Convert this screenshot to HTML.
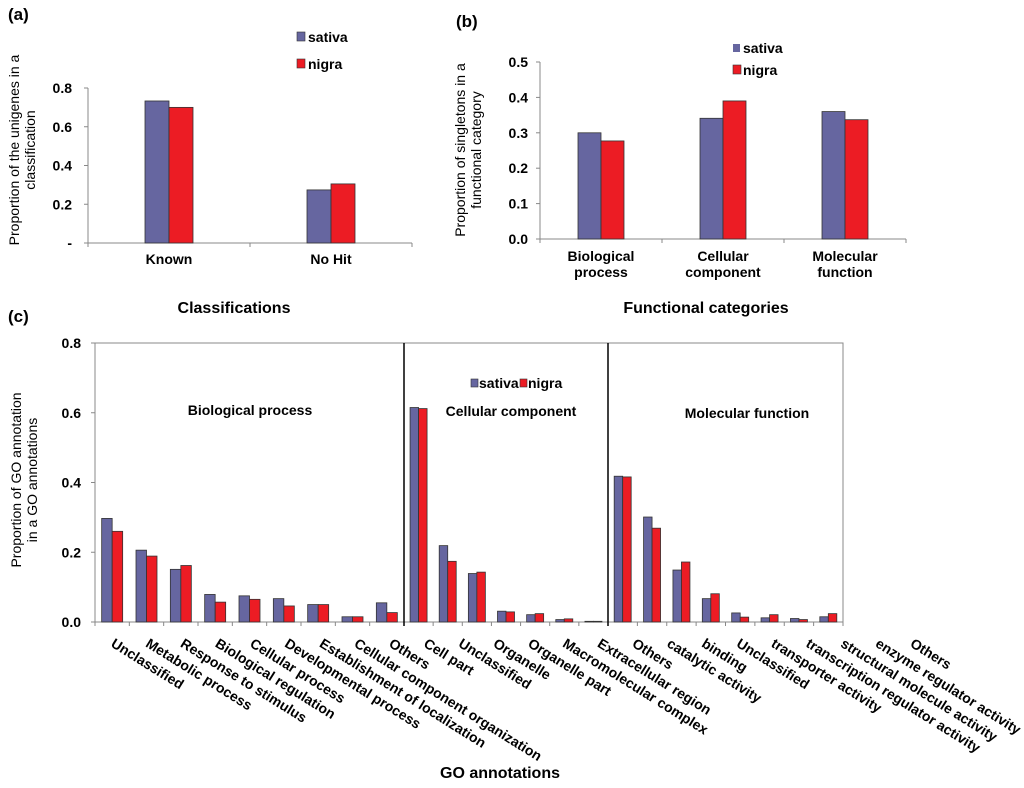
<!DOCTYPE html>
<html><head><meta charset="utf-8"><style>
html,body{margin:0;padding:0;background:#fff;}
svg{display:block;font-family:"Liberation Sans",Arial,sans-serif;font-weight:bold;}
</style></head><body>
<svg id="fig" width="1024" height="788" viewBox="0 0 1024 788">
<g id="pa"></g>
<g id="pb"></g>
<g id="pc"></g>
</svg>
<script>
// Panel (a)
const aCats = ["Known","No Hit"];
const aSativa = [0.733, 0.274];
const aNigra = [0.70, 0.305];
const aTicks = [0, 0.2, 0.4, 0.6, 0.8];
const aTickLabels = ["-", "0.2", "0.4", "0.6", "0.8"];
// Panel (b)
const bCats = [["Biological","process"],["Cellular","component"],["Molecular","function"]];
const bSativa = [0.30, 0.341, 0.36];
const bNigra = [0.277, 0.39, 0.337];
const bTicks = [0, 0.1, 0.2, 0.3, 0.4, 0.5];
const bTickLabels = ["0.0","0.1","0.2","0.3","0.4","0.5"];
// Panel (c)
const cBP = ["Unclassified","Metabolic process","Response to stimulus","Biological regulation","Cellular process","Developmental process","Establishment of localization","Cellular component organization","Others"];
const cBPSativa = [0.297,0.206,0.151,0.079,0.075,0.067,0.05,0.015,0.055];
const cBPNigra = [0.26,0.189,0.162,0.057,0.065,0.046,0.05,0.015,0.027];
const cCC = ["Cell part","Unclassified","Organelle","Organelle part","Macromolecular complex","Extracellular region","Others"];
const cCCSativa = [0.615,0.219,0.139,0.031,0.021,0.007,0.002];
const cCCNigra = [0.612,0.174,0.143,0.029,0.024,0.009,0.002];
const cMF = ["catalytic activity","binding","Unclassified","transporter activity","transcription regulator activity","structural molecule activity","enzyme regulator activity","Others"];
const cMFSativa = [0.418,0.301,0.149,0.067,0.026,0.012,0.01,0.015];
const cMFNigra = [0.416,0.269,0.172,0.081,0.014,0.021,0.007,0.024];
const cTicks = [0,0.2,0.4,0.6,0.8];
const cTickLabels = ["0.0","0.2","0.4","0.6","0.8"];

const NS="http://www.w3.org/2000/svg";
const SAT="#6666a0", NIG="#ec1c24";
function mk(parent,tag,attrs,text){const e=document.createElementNS(NS,tag);for(const k in attrs)e.setAttribute(k,attrs[k]);if(text!==undefined)e.textContent=text;parent.appendChild(e);return e;}

// ---- Panel a ----
(function(){
 const g=document.getElementById('pa');
 const x0=88,x1=412,y0=243,y1=88,vmax=0.8;
 const ys=v=>y0-(v/vmax)*(y0-y1);
 const cw=(x1-x0)/aCats.length, bw=24;
 mk(g,'text',{x:8,y:20,'font-size':17},'(a)');
 let l=mk(g,'line',{x1:x0,y1:y1,x2:x0,y2:y0,stroke:'#888'});
  
 l=mk(g,'line',{x1:x0,y1:y0,x2:x1,y2:y0,stroke:'#888'});
  
 aTicks.forEach((t,i)=>{mk(g,'line',{x1:x0-4,y1:ys(t),x2:x0,y2:ys(t),stroke:'#888'});
  const tx=mk(g,'text',{x:x0-16,y:ys(t)+5,'font-size':14,'text-anchor':'end'},aTickLabels[i]);
   });
 for(let i=0;i<=aCats.length;i++)mk(g,'line',{x1:x0+i*cw,y1:y0,x2:x0+i*cw,y2:y0+4,stroke:'#888'});
 aCats.forEach((c,i)=>{const cx=x0+cw*(i+0.5);
  let r=mk(g,'rect',{x:cx-bw,y:ys(aSativa[i]),width:bw,height:y0-ys(aSativa[i]),fill:SAT,stroke:'#333','stroke-width':0.8});
   
  r=mk(g,'rect',{x:cx,y:ys(aNigra[i]),width:bw,height:y0-ys(aNigra[i]),fill:NIG,stroke:'#333','stroke-width':0.8});
   
  const t=mk(g,'text',{x:cx,y:264,'font-size':14,'text-anchor':'middle'},c);
   });
 let t=mk(g,'text',{x:234,y:313,'font-size':16,'text-anchor':'middle'},'Classifications');
  
 const yt=mk(g,'text',{transform:'translate(19,150) rotate(-90)','font-size':14,'text-anchor':'middle','font-weight':'normal'});
  
 mk(yt,'tspan',{x:0,dy:0},'Proportion  of the unigenes in a');
 mk(yt,'tspan',{x:0,dy:16},'classification');
 const lg=mk(g,'g',{});
  
 mk(lg,'rect',{x:297,y:32,width:8,height:9,fill:SAT,stroke:'#333','stroke-width':0.6});
 mk(lg,'text',{x:308,y:42,'font-size':14},'sativa');
 mk(lg,'rect',{x:297,y:59,width:8,height:9,fill:NIG,stroke:'#333','stroke-width':0.6});
 mk(lg,'text',{x:308,y:69,'font-size':14},'nigra');
})();

// ---- Panel b ----
(function(){
 const g=document.getElementById('pb');
 const x0=540,x1=906,y0=239,y1=62,vmax=0.5;
 const ys=v=>y0-(v/vmax)*(y0-y1);
 const cw=(x1-x0)/bCats.length, bw=23;
 mk(g,'text',{x:456,y:27,'font-size':17},'(b)');
 let l=mk(g,'line',{x1:x0,y1:y1,x2:x0,y2:y0,stroke:'#888'});
  
 l=mk(g,'line',{x1:x0,y1:y0,x2:x1,y2:y0,stroke:'#888'});
  
 bTicks.forEach((t,i)=>{mk(g,'line',{x1:x0-4,y1:ys(t),x2:x0,y2:ys(t),stroke:'#888'});
  const tx=mk(g,'text',{x:x0-12,y:ys(t)+5,'font-size':14,'text-anchor':'end'},bTickLabels[i]);
   });
 for(let i=0;i<=bCats.length;i++)mk(g,'line',{x1:x0+i*cw,y1:y0,x2:x0+i*cw,y2:y0+4,stroke:'#888'});
 bCats.forEach((c,i)=>{const cx=x0+cw*(i+0.5);
  let r=mk(g,'rect',{x:cx-bw,y:ys(bSativa[i]),width:bw,height:y0-ys(bSativa[i]),fill:SAT,stroke:'#333','stroke-width':0.8});
   
  r=mk(g,'rect',{x:cx,y:ys(bNigra[i]),width:bw,height:y0-ys(bNigra[i]),fill:NIG,stroke:'#333','stroke-width':0.8});
   
  const t=mk(g,'text',{x:cx,y:261,'font-size':14,'text-anchor':'middle'});
   
  mk(t,'tspan',{x:cx,dy:0},c[0]); mk(t,'tspan',{x:cx,dy:16},c[1]);});
 let t=mk(g,'text',{x:706,y:313,'font-size':16,'text-anchor':'middle'},'Functional categories');
  
 const yt=mk(g,'text',{transform:'translate(465,150) rotate(-90)','font-size':14,'text-anchor':'middle','font-weight':'normal'});
  
 mk(yt,'tspan',{x:0,dy:0},'Proportion of singletons in a');
 mk(yt,'tspan',{x:0,dy:16},'functional  category');
 const lg=mk(g,'g',{});
  
 mk(lg,'rect',{x:733,y:44,width:7,height:8,fill:SAT});
 mk(lg,'text',{x:743,y:53,'font-size':14},'sativa');
 mk(lg,'rect',{x:733,y:65,width:8,height:9,fill:NIG,stroke:'#333','stroke-width':0.6});
 mk(lg,'text',{x:743,y:75,'font-size':14},'nigra');
})();

// ---- Panel c ----
(function(){
 const g=document.getElementById('pc');
 const x0=95,x1=843,y0=622,y1=343,vmax=0.8;
 const ys=v=>y0-(v/vmax)*(y0-y1);
 mk(g,'text',{x:8,y:322,'font-size':17},'(c)');
 const fr=mk(g,'rect',{x:x0,y:y1,width:x1-x0,height:y0-y1,fill:'none',stroke:'#888'});
  
 cTicks.forEach((t,i)=>{mk(g,'line',{x1:x0-4,y1:ys(t),x2:x0,y2:ys(t),stroke:'#888'});
  const tx=mk(g,'text',{x:x0-14,y:ys(t)+5,'font-size':14,'text-anchor':'end'},cTickLabels[i]);
   });
 const groups=[[cBP,cBPSativa,cBPNigra,95,404,10.5],[cCC,cCCSativa,cCCNigra,404,608,8.5],[cMF,cMFSativa,cMFNigra,608,843,8.5]];
 let k=0;
 groups.forEach(([cats,sv,nv,a,b,bw])=>{
  const cw=(b-a)/cats.length;
  for(let i=0;i<=cats.length;i++)mk(g,'line',{x1:a+i*cw,y1:y0,x2:a+i*cw,y2:y0+4,stroke:'#888'});
  cats.forEach((c,i)=>{const cx=a+cw*(i+0.5);
   let r=mk(g,'rect',{x:cx-bw,y:ys(sv[i]),width:bw,height:y0-ys(sv[i]),fill:SAT,stroke:'#333','stroke-width':0.8});
    
   r=mk(g,'rect',{x:cx,y:ys(nv[i]),width:bw,height:y0-ys(nv[i]),fill:NIG,stroke:'#333','stroke-width':0.8});
    
   const lx=110+34.75*k; k++;
   const t=mk(g,'text',{transform:'translate('+lx+',646) rotate(32)','font-size':14},c);
    });
 });
 [404,608].forEach(x=>{const d=mk(g,'line',{x1:x,y1:y1,x2:x,y2:y0+4,stroke:'#000','stroke-width':1.5});
   });
 [['Biological  process',250,415],['Cellular  component',511,416],['Molecular  function',747,418]].forEach(([s,x,y])=>{
  const t=mk(g,'text',{x:x,y:y,'font-size':14,'text-anchor':'middle'},s);
   });
 const lg=mk(g,'g',{});
  
 mk(lg,'rect',{x:471,y:379,width:7,height:8,fill:SAT,stroke:'#333','stroke-width':0.6});
 mk(lg,'text',{x:479,y:388,'font-size':14},'sativa');
 mk(lg,'rect',{x:520,y:379,width:7,height:8,fill:NIG,stroke:'#333','stroke-width':0.6});
 mk(lg,'text',{x:528,y:388,'font-size':14},'nigra');
 let t=mk(g,'text',{x:500,y:778,'font-size':16,'text-anchor':'middle'},'GO annotations');
  
 const yt=mk(g,'text',{transform:'translate(21,480) rotate(-90)','font-size':14,'text-anchor':'middle','font-weight':'normal'});
  
 mk(yt,'tspan',{x:0,dy:0},'Proportion of GO annotation');
 mk(yt,'tspan',{x:0,dy:16},'in a GO annotations');
})();
</script>
</body></html>
